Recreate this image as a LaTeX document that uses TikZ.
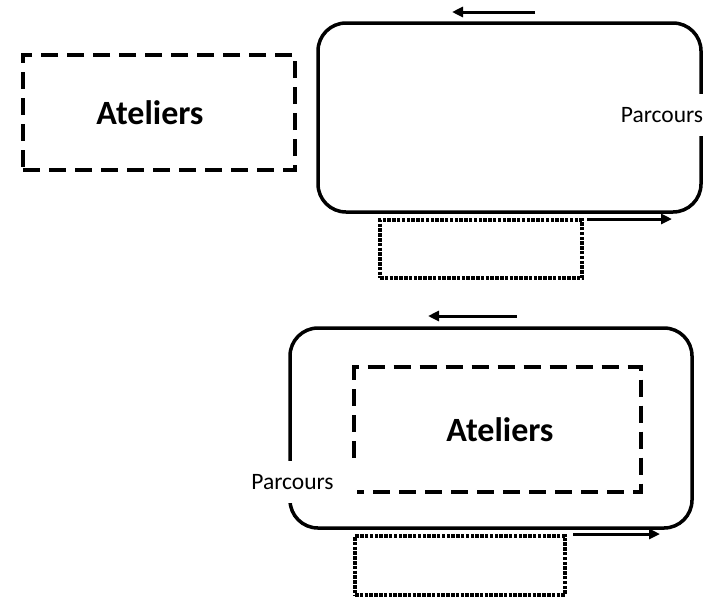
\documentclass[tikz,border=0pt]{standalone}
\usepackage{fontspec}
\setmainfont{Carlito}
\usetikzlibrary{arrows.meta}

\begin{document}
\begin{tikzpicture}
[x=1pt, y=-1pt,
 boucle/.style={draw=black, line width=3.5pt, rounded corners=28pt, inner sep=0pt},
 atelier/.style={line width=4pt, dash pattern=on 17pt off 9pt, inner sep=0pt, font=\bfseries\fontsize{34}{40}\selectfont},
 stand/.style={draw=black, line width=3.2pt, dash pattern=on 3.5pt off 1.3pt, inner sep=0pt},
 etiquette/.style={fill=white, inner xsep=2pt, inner ysep=13pt, font=\fontsize{23.5}{28}\selectfont},
 sens/.style={-{Triangle[length=11pt,width=10pt]}, line width=3pt}]

\useasboundingbox (0,0) rectangle (711,598);

% premier plan
\node[atelier, draw, minimum width=272pt, minimum height=115pt] (ateliers1) at (159,112.5) {Ateliers\hspace*{18pt}};
\node[boucle, minimum width=383pt, minimum height=189pt] (boucle1) at (509.5,117.5) {};
\node[etiquette] (parcours1) at (662,115) {Parcours};
\node[stand, minimum width=202pt, minimum height=58pt] (stand1) at (481,249) {};

\coordinate (haut1a) at (535,12);
\coordinate (haut1b) at (452,12);
\coordinate (bas1a) at (587,219);
\coordinate (bas1b) at (672,219);
\draw[sens] (haut1a) -- (haut1b);
\draw[sens] (bas1a) -- (bas1b);

% second plan
\node[boucle, minimum width=402pt, minimum height=200pt] (boucle2) at (491,428) {};
\node[atelier, minimum width=283pt, minimum height=121pt] (ateliers2) at (497.5,429.5) {\hspace*{5pt}Ateliers};
\draw[atelier] ([yshift=-28pt]ateliers2.west) -- (ateliers2.north west) -- (ateliers2.north east)
  -- (ateliers2.south east) -- ([xshift=3pt]ateliers2.south west);
\node[etiquette] (parcours2) at (292.5,482) {Parcours};
\node[stand, minimum width=210pt, minimum height=59pt] (stand2) at (460,565.5) {};

\coordinate (haut2a) at (517,316);
\coordinate (haut2b) at (428,316);
\coordinate (bas2a) at (573,534);
\coordinate (bas2b) at (660,534);
\draw[sens] (haut2a) -- (haut2b);
\draw[sens] (bas2a) -- (bas2b);
\end{tikzpicture}
\end{document}
